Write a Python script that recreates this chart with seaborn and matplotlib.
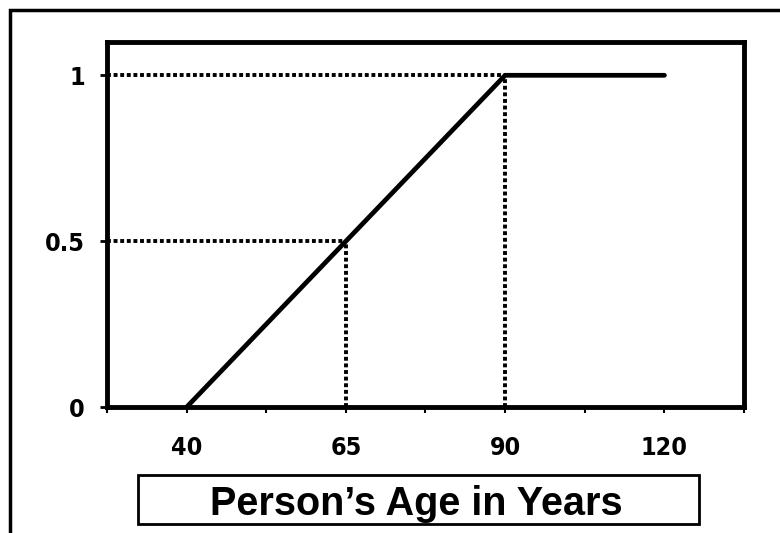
#!/usr/bin/env python3
# age_ramp.py - linear ramp of a weight with person's age

import matplotlib
matplotlib.use('Agg')
import matplotlib.pyplot as plt
from matplotlib.patches import Rectangle
import pandas as pd
import seaborn as sns

# Data =========================================================================

ages = [40, 65, 90, 120]
weights = [0, 0.5, 1, 1]
x_tick_labels = ['', '40', '', '65', '', '90', '', '120', '']
y_ticks = [0, 0.5, 1]
y_tick_labels = ['0', '0.5', '1']
x_label = 'Person\u2019s Age in Years'


def main():
    sns.set_theme(style='white')
    plt.rcParams['font.family'] = ['DejaVu Sans']
    plt.rcParams['text.color'] = 'black'
    plt.rcParams['xtick.color'] = 'black'
    plt.rcParams['ytick.color'] = 'black'

    # ages sit on every other tick of an evenly spaced axis
    pos = {a: 1 + 2 * i for i, a in enumerate(ages)}
    df = pd.DataFrame({'pos': [pos[a] for a in ages], 'weight': weights})

    fig = plt.figure(figsize=(7.8, 5.33), dpi=100)
    ax = fig.add_axes([0.137, 0.236, 0.817, 0.685])

    sns.lineplot(data=df, x='pos', y='weight', color='black', linewidth=3.4,
                 ax=ax)

    # dotted guides at 0.5 (age 65) and 1 (age 90)
    dots = (0, (1.0, 0.7))
    for age, w in zip(ages[1:3], weights[1:3]):
        ax.plot([0, pos[age]], [w, w], color='black', linewidth=2.8,
                linestyle=dots)
        ax.plot([pos[age], pos[age]], [0, w], color='black', linewidth=2.8,
                linestyle=dots)

    tick_font = dict(fontsize=18, fontweight='bold', fontstretch='condensed',
                     family='DejaVu Sans')
    ax.set_xlim(0, len(x_tick_labels) - 1)
    ax.set_ylim(0, 1.1)
    ax.set_xticks(range(len(x_tick_labels)))
    ax.set_xticklabels(x_tick_labels, **tick_font)
    ax.set_yticks(y_ticks)
    ax.set_yticklabels(y_tick_labels, **tick_font)
    ax.tick_params(axis='x', direction='out', length=4, width=1.5,
                   colors='black', pad=17, bottom=True)
    ax.tick_params(axis='y', direction='out', length=5, width=2,
                   colors='black', pad=11, left=True)
    ax.set_xlabel('')
    ax.set_ylabel('')
    for side in ax.spines.values():
        side.set_visible(True)
        side.set_color('black')
        side.set_linewidth(3.5)
    ax.grid(False)

    fig.text(0.534, 1 - 515 / 533, x_label, ha='center', va='baseline',
             fontsize=28.5, fontweight='bold',
             family=['Liberation Sans', 'DejaVu Sans'])
    fig.patches.append(Rectangle((138 / 780, 1 - 524 / 533), 561 / 780,
                                 49 / 533, transform=fig.transFigure,
                                 fill=False, edgecolor='black', linewidth=2))
    # outer frame, cut off at the right and bottom
    fig.patches.append(Rectangle((9.5 / 780, -0.1), 1.2, 1 - 10.5 / 533 + 0.1,
                                 transform=fig.transFigure, fill=False,
                                 edgecolor='black', linewidth=2.5))

    fig.savefig('out.png', dpi=100)


if __name__ == '__main__':
    main()
